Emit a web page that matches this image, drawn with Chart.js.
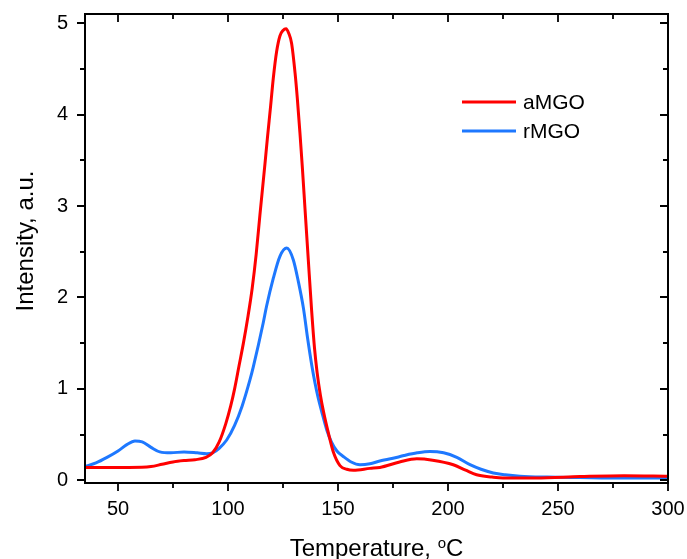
<!DOCTYPE html>
<html>
<head>
<meta charset="utf-8">
<script src="https://cdn.jsdelivr.net/npm/chart.js@4.4.1/dist/chart.umd.min.js"></script>
<style>
  html, body { margin: 0; padding: 0; background: #fff; }
</style>
</head>
<body>
<canvas id="tprChart" width="687" height="559"></canvas>
<script>
// aMGO (red)
let aTemp = [35, 45, 55, 65, 70, 75, 80, 85, 90, 93, 96, 99, 101.2, 103, 105, 107, 109, 111, 112.8, 114.5, 116.8, 117.9, 119.4, 120.6, 122.1, 123.6, 125, 126.4, 127.6, 128.9, 130.5, 131.5, 132.7, 133.8, 135, 136.5, 138, 139.3, 140.5, 142, 143.5, 145.6, 148, 150.9, 154, 157, 164.5, 169, 178, 185.8, 193, 202.4, 208, 213, 220, 225, 240, 260, 280, 300];
let aVal = [0.14, 0.14, 0.14, 0.15, 0.175, 0.2, 0.215, 0.225, 0.25, 0.3, 0.42, 0.62, 0.81, 1.0, 1.25, 1.5, 1.78, 2.1, 2.47, 2.9, 3.46, 3.74, 4.1, 4.4, 4.69, 4.86, 4.92, 4.94, 4.89, 4.78, 4.45, 4.18, 3.8, 3.42, 2.97, 2.41, 1.86, 1.45, 1.18, 0.93, 0.74, 0.52, 0.3, 0.16, 0.12, 0.11, 0.13, 0.14, 0.2, 0.235, 0.22, 0.17, 0.11, 0.06, 0.035, 0.025, 0.025, 0.04, 0.05, 0.045];

// rMGO (blue)
let rTemp = [35, 40, 45, 50, 54, 57.7, 61, 65, 69, 74, 80, 86, 90.3, 93, 96, 99.4, 103, 106.4, 110, 111.5, 116, 117.5, 120.6, 123.6, 126.7, 129.7, 132, 134.3, 136.2, 138, 139.5, 141, 142.5, 144.9, 147, 149.5, 152.4, 156, 160, 164.5, 169, 175, 180, 186, 191.8, 198, 204, 210, 215, 220.6, 226, 232.7, 245, 260, 280, 300];
let rVal = [0.15, 0.19, 0.25, 0.32, 0.39, 0.43, 0.42, 0.36, 0.31, 0.3, 0.31, 0.3, 0.29, 0.3, 0.35, 0.44, 0.6, 0.81, 1.1, 1.24, 1.72, 1.9, 2.21, 2.45, 2.54, 2.41, 2.17, 1.88, 1.55, 1.27, 1.07, 0.9, 0.76, 0.55, 0.42, 0.32, 0.26, 0.2, 0.17, 0.18, 0.21, 0.24, 0.27, 0.3, 0.315, 0.3, 0.25, 0.17, 0.12, 0.08, 0.06, 0.045, 0.035, 0.03, 0.025, 0.025];

let seriesNames = ["aMGO", "rMGO"];
let seriesColors = ["#FF0000", "#1E78FF"];
let xTicks = [50, 100, 150, 200, 250, 300];
let xMinor = [75, 125, 175, 225, 275];
let yTicks = [0, 1, 2, 3, 4, 5];
let yMinor = [0.5, 1.5, 2.5, 3.5, 4.5];
let xTitle = "Temperature, ";
let xUnit = "C";
let xUnitSup = "o";
let yTitle = "Intensity, a.u.";

let fontName = "'Liberation Sans', Arial, sans-serif";

function toPoints(xs, ys) {
  return xs.map((x, i) => ({ x: x, y: ys[i] }));
}

function noEdgePadding(s) {
  s.paddingLeft = 0;
  s.paddingRight = 0;
  s.paddingTop = 0;
  s.paddingBottom = 0;
}

// frame with mirrored ticks, axis titles and legend
let decorations = {
  id: "decorations",
  afterDraw(chart) {
    let ctx = chart.ctx;
    let a = chart.chartArea;
    let sx = chart.scales.x;
    let sy = chart.scales.y;
    ctx.save();
    ctx.strokeStyle = "#000";
    ctx.lineWidth = 2;
    ctx.strokeRect(a.left, a.top, a.right - a.left, a.bottom - a.top);

    ctx.lineWidth = 1.8;
    ctx.beginPath();
    function xTick(v, len) {
      let px = Math.round(sx.getPixelForValue(v));
      ctx.moveTo(px, a.bottom);
      ctx.lineTo(px, a.bottom + len);
      ctx.moveTo(px, a.top);
      ctx.lineTo(px, a.top + len);
    }
    function yTick(v, len) {
      let py = Math.round(sy.getPixelForValue(v));
      ctx.moveTo(a.left, py);
      ctx.lineTo(a.left - len, py);
      ctx.moveTo(a.right, py);
      ctx.lineTo(a.right - len, py);
    }
    xTicks.forEach(v => xTick(v, 8));
    xMinor.forEach(v => xTick(v, 5));
    yTicks.forEach(v => yTick(v, 8));
    yMinor.forEach(v => yTick(v, 5));
    ctx.stroke();

    // y title
    ctx.fillStyle = "#000";
    ctx.font = "24px " + fontName;
    ctx.save();
    ctx.translate(33, 241);
    ctx.rotate(-Math.PI / 2);
    ctx.textAlign = "center";
    ctx.textBaseline = "alphabetic";
    ctx.fillText(yTitle, 0, 0);
    ctx.restore();

    // x title with superscript o
    ctx.textAlign = "left";
    ctx.textBaseline = "alphabetic";
    ctx.font = "24px " + fontName;
    let w1 = ctx.measureText(xTitle).width;
    let w3 = ctx.measureText(xUnit).width;
    ctx.font = "15px " + fontName;
    let w2 = ctx.measureText(xUnitSup).width;
    let start = (a.left + a.right) / 2 - (w1 + w2 + w3) / 2;
    let base = 556;
    ctx.font = "24px " + fontName;
    ctx.fillText(xTitle, start, base);
    ctx.fillText(xUnit, start + w1 + w2, base);
    ctx.font = "15px " + fontName;
    ctx.fillText(xUnitSup, start + w1, base - 8);

    // legend
    ctx.font = "21px " + fontName;
    ctx.textBaseline = "middle";
    chart.data.datasets.forEach((ds, i) => {
      let ly = 102 + i * 29;
      ctx.strokeStyle = ds.borderColor;
      ctx.lineWidth = 3;
      ctx.beginPath();
      ctx.moveTo(462, ly);
      ctx.lineTo(516, ly);
      ctx.stroke();
      ctx.fillText(ds.label, 523, ly + 1);
    });
    ctx.restore();
  }
};

new Chart(document.getElementById("tprChart"), {
  type: "line",
  data: {
    datasets: [
      {
        label: seriesNames[0],
        data: toPoints(aTemp, aVal),
        borderColor: seriesColors[0],
        borderWidth: 3,
        pointRadius: 0,
        cubicInterpolationMode: "monotone",
        fill: false,
      },
      {
        label: seriesNames[1],
        data: toPoints(rTemp, rVal),
        borderColor: seriesColors[1],
        borderWidth: 3,
        pointRadius: 0,
        cubicInterpolationMode: "monotone",
        fill: false,
      },
    ],
  },
  options: {
    responsive: false,
    animation: false,
    devicePixelRatio: 1,
    layout: { padding: { top: 14, right: 19, left: 0, bottom: 0 } },
    plugins: {
      legend: { display: false },
      tooltip: { enabled: false },
    },
    scales: {
      x: {
        type: "linear",
        min: 35,
        max: 300,
        grid: { display: false, drawTicks: false },
        border: { display: false },
        afterBuildTicks: (s) => { s.ticks = xTicks.map(v => ({ value: v })); },
        afterFit: (s) => { s.height = 76; noEdgePadding(s); },
        ticks: {
          font: { family: fontName, size: 20 },
          color: "#000",
          padding: 14,
          autoSkip: false,
          maxRotation: 0,
        },
      },
      y: {
        type: "linear",
        min: -0.03,
        max: 5.1,
        grid: { display: false, drawTicks: false },
        border: { display: false },
        afterBuildTicks: (s) => { s.ticks = yTicks.map(v => ({ value: v })); },
        afterFit: (s) => { s.width = 85; noEdgePadding(s); },
        ticks: {
          font: { family: fontName, size: 20 },
          color: "#000",
          padding: 17,
          autoSkip: false,
        },
      },
    },
  },
  plugins: [decorations],
});
</script>
</body>
</html>
